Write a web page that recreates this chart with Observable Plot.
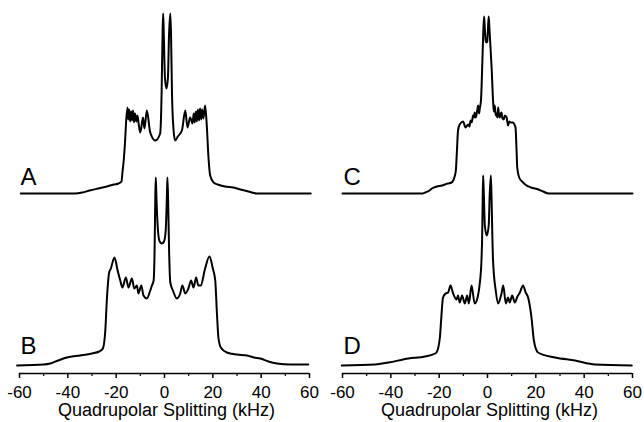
<!DOCTYPE html>
<html><head><meta charset="utf-8">
<script src="https://cdn.jsdelivr.net/npm/d3@7"></script>
<script src="https://cdn.jsdelivr.net/npm/@observablehq/plot@0.6"></script>
<style>
body{margin:0;background:#fff}
#chart{display:flex;width:644px;height:422px}
</style>
</head><body><div id="chart"></div>
<script>
// ---- Spectrum A (top left) ----
const kHzA = [-59.5,-37,-34,-31,-27.5,-23.8,-21,-19,-17.8,-17.4,-16.8,-16.3,-15.8,-15.3,-15.0,-14.6,-14.2,-13.8,-13.4,-13.0,-12.6,-12.2,-11.7,-11.2,-10.6,-10.0,-8.9,-8.3,-7.3,-5.9,-3.8,-1.8,-1.2,-0.8,-0.55,-0.3,0.2,0.8,1.4,1.9,2.4,2.7,3.1,3.8,4.4,5.5,7.2,8.6,9.5,10.6,11.6,12.1,12.5,13.0,13.4,13.8,14.3,14.7,15.2,15.6,16.1,16.8,17.5,18.2,18.9,20.3,22,25,28.5,31.5,34.7,38.2,60.5];
const intA = [0,0,1,3,5,7,9,10,12,21,35,53,75,86,74,84,72,82,73,83,71,80,72,78,68,61,76,65,83,61,53,60,100,160,180,160,115,105,115,160,180,160,100,62,53,57,63,83,66,76,70,80,71,82,72,84,73,85,74,84,75,88,68,36,18,11,9,7,6,4,2,0,0];
// ---- Spectrum B (bottom left) ----
const kHzB = [-61,-50,-47.3,-44,-40.4,-34.9,-30,-27,-25.5,-24.5,-23.8,-22.9,-22.2,-20.7,-19.4,-18.3,-17.4,-16.0,-14.9,-13.5,-12.5,-11.4,-10.8,-9.6,-8.7,-7.3,-5.9,-5.2,-4.5,-4.1,-3.8,-3.6,-3.3,-2.7,-2.0,-1.1,-0.2,0.5,1.0,1.2,1.5,1.9,2.4,3.5,5.1,6.5,7.4,8.6,9.9,11.0,12.0,13.1,14.0,15.0,16.8,18.6,20.0,21.0,21.7,22.3,23.3,25.8,30,34.1,37,39.6,43,46.5,52,59.5];
const intB = [0,1,2,5,8,10,12,14,17,35,68,93,97,108,95,85,78,88,78,87,77,80,72,80,70,67,75,80,85,115,170,188,165,135,124,122,124,135,170,188,165,115,83,75,67,72,80,72,77,85,78,88,80,80,97,109,97,85,52,28,18,13,11,10,8,7,4,2,1,1];
// ---- Spectrum C (top right) ----
const kHzC = [-60,-27,-25.8,-24,-23,-21,-18.9,-16.5,-14.8,-14.2,-13.6,-13.1,-12.6,-12.2,-11.5,-10.1,-9.1,-8.0,-7.5,-7.0,-6.5,-6.0,-5.6,-5.3,-4.9,-4.6,-4.2,-3.9,-3.5,-3.2,-2.7,-2.2,-1.7,-1.4,-1.1,-0.7,-0.4,-0.1,0.2,0.5,0.8,1.7,2.3,2.6,3.0,3.4,3.7,4.1,4.4,4.8,5.1,5.5,5.8,6.2,6.7,7.2,7.9,8.5,9.0,9.6,10.6,11.3,11.6,12.0,12.3,13.1,14.7,15.6,18,21.1,23,25.2,60];
const intC = [0,0,1,3,5,7,8,10,11,13,17,23,45,63,69,72,66,69,67,73,71,78,76,81,76,78,84,88,80,85,93,126,165,177,165,152,151,152,165,177,165,126,93,82,88,78,80,76,86,78,76,80,81,75,74,78,76,68,72,71,71,68,66,45,26,16,11,9,6,4,2,0,0];
// ---- Spectrum D (bottom right) ----
const kHzD = [-60.3,-46.5,-41,-32.7,-25.8,-21.7,-21.1,-19.7,-19.2,-18.4,-17.3,-16.3,-15.3,-14.2,-12.8,-12.2,-11.5,-10.5,-9.4,-8.4,-7.7,-6.6,-5.3,-4.1,-3.2,-2.5,-2.2,-2.0,-1.8,-1.5,-1.1,-0.3,0.5,0.9,1.4,1.7,2.0,2.3,3.4,4.4,5.8,6.5,7.6,8.5,9.2,10.2,11.3,12.4,13.4,14.7,15.8,16.8,18.2,19.2,20.9,28,36.2,44.5,59.7];
const intD = [0,1,3,7,9,12,13,28,45,68,72,73,80,72,66,70,63,70,62,70,62,80,62,68,82,105,130,165,190,170,140,130,140,170,190,165,130,105,75,62,72,80,62,68,63,70,63,69,73,80,73,68,48,25,13,8,5,1,0];

const panelLabels = [["A", "B"], ["C", "D"]];
const rowOffsets = [172, 0];
const majorTicks = [-60, -40, -20, 0, 20, 40, 60];
const minorTicks = [-50, -30, -10, 10, 30, 50];
const axisTitle = "Quadrupolar Splitting (kHz)";

function toRows(xs, ys, off) {
  return xs.map((x, i) => ({x, v: ys[i], off}));
}

function panel(top, bottom, labels, mLeft, mRight) {
  const dataTop = toRows(top[0], top[1], rowOffsets[0]);
  const dataBot = toRows(bottom[0], bottom[1], rowOffsets[1]);
  const lab = [
    {t: labels[0], off: rowOffsets[0]},
    {t: labels[1], off: rowOffsets[1]}
  ];
  return Plot.plot({
    width: 322, height: 422,
    marginLeft: mLeft, marginRight: mRight, marginTop: 0, marginBottom: 49,
    x: {domain: [-60, 60]},
    y: {domain: [-8, 365], axis: null},
    style: {fontFamily: "'Liberation Sans', Arial, sans-serif", color: "#000", background: "#fff", overflow: "visible"},
    marks: [
      Plot.ruleY([-8], {stroke: "#000", strokeWidth: 1.6}),
      Plot.axisX({ticks: majorTicks, tickSize: 5, tickPadding: 7, tickFormat: d => String(d), fontSize: 17, label: null, strokeWidth: 1.5, stroke: "#000"}),
      Plot.axisX({ticks: minorTicks, tickSize: 3, tickFormat: () => "", label: null, strokeWidth: 1.2, stroke: "#000"}),
      Plot.line(dataTop, {x: "x", y: d => d.v + d.off, stroke: "#000", strokeWidth: 2, curve: "monotone-x"}),
      Plot.line(dataBot, {x: "x", y: d => d.v + d.off, stroke: "#000", strokeWidth: 2, curve: "monotone-x"}),
      Plot.text(lab, {x: -60, y: d => d.off + (d.off ? 16.5 : 19), text: "t", textAnchor: "start", lineAnchor: "middle", fontSize: 24, fill: "#000", dx: 1}),
      Plot.text([axisTitle], {frameAnchor: "bottom", text: d => d, dy: 37, lineAnchor: "middle", fontSize: 18, fill: "#000", dx: 2})
    ]
  });
}

const root = document.getElementById("chart");
root.append(panel([kHzA, intA], [kHzB, intB], panelLabels[0], 19, 13));
root.append(panel([kHzC, intC], [kHzD, intD], panelLabels[1], 20, 12));
</script>
</body></html>
